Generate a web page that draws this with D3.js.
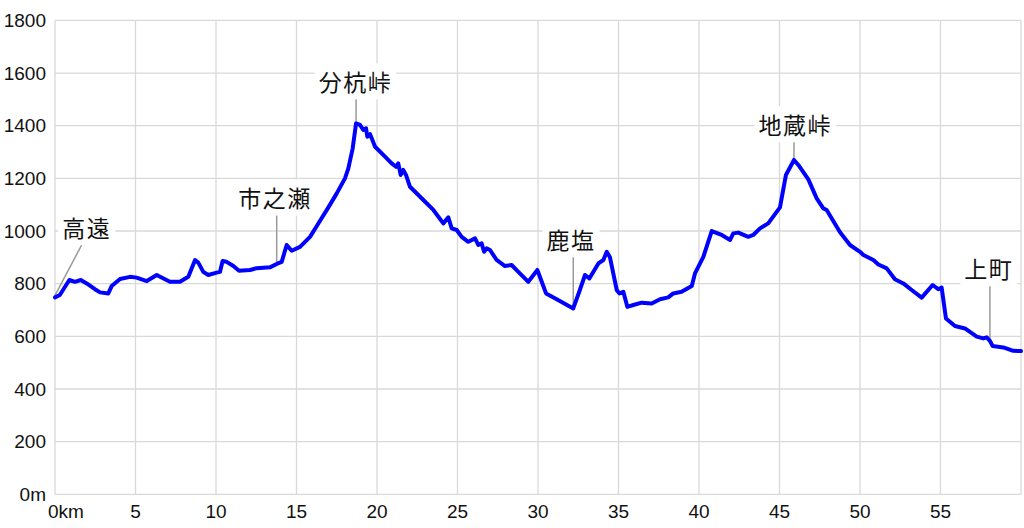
<!DOCTYPE html>
<html><head><meta charset="utf-8">
<script src="https://cdn.jsdelivr.net/npm/d3@7"></script>
<style>body{margin:0;background:#fff}svg{display:block}</style>
</head><body>
<svg id="c" width="1024" height="528"></svg>
<script>
const km = [0,0.3,0.89,1.24,1.6,1.97,2.48,2.8,3.31,3.52,4.04,4.66,5.07,5.7,6.32,6.83,7.14,7.76,8.28,8.7,8.9,9.21,9.52,10.04,10.25,10.41,10.66,11.08,11.43,12.11,12.53,13.35,13.77,14.08,14.39,14.7,15.22,15.84,16.25,16.98,17.5,18.01,18.22,18.49,18.7,18.94,19.15,19.32,19.4,19.57,19.88,20.39,20.91,21.18,21.32,21.47,21.63,21.8,22.05,22.88,23.5,24.12,24.43,24.64,24.95,25.26,25.67,26.09,26.29,26.5,26.65,26.81,27.02,27.43,27.95,28.36,28.78,29.4,29.96,30.5,31.16,32.19,32.6,32.92,33.19,33.75,34.06,34.27,34.47,34.89,35.05,35.3,35.55,35.92,36.44,37.06,37.58,38.09,38.4,38.92,39.55,39.75,40.27,40.79,41.41,41.93,42.13,42.44,43.06,43.37,43.79,44.3,45.03,45.4,45.9,46.17,46.79,47.31,47.72,47.93,48.76,49.38,50.0,50.21,50.83,51.14,51.66,52.17,52.69,53.21,53.83,54.51,54.86,55.07,55.34,55.9,56.52,57.25,57.66,57.87,58.07,58.24,58.9,59.52,60];
const elevation = [748,757,814,807,814,801,779,767,763,791,818,826,823,810,833,817,807,807,826,890,880,845,833,842,845,886,883,867,849,852,859,862,875,883,947,925,940,978,1018,1090,1143,1200,1238,1314,1409,1403,1384,1390,1358,1368,1320,1289,1257,1244,1257,1213,1232,1213,1168,1118,1080,1029,1052,1010,1004,978,959,972,947,953,921,934,928,890,867,871,845,807,852,763,741,706,776,833,820,877,890,921,900,776,763,769,712,719,728,725,741,748,763,769,791,839,902,1000,985,966,991,994,978,985,1010,1029,1090,1213,1270,1251,1196,1124,1086,1080,995,947,921,909,890,873,858,817,801,776,747,795,779,785,668,639,630,599,592,596,583,563,558,545,544];
const xTicks = [0,5,10,15,20,25,30,35,40,45,50,55];
const yTicks = [0,200,400,600,800,1000,1200,1400,1600,1800];
const placeNames = ["高遠","市之瀬","分杭峠","鹿塩","地蔵峠","上町"];
const placeKm = [0,13.77,18.7,32.19,45.9,58.07];
const placeElev = [748,875,1409,706,1270,583];
const labelKm = [1.97,13.66,18.66,32.05,45.98,58.0];
const labelElev = [1008,1121,1562,962,1399,852];

const svg = d3.select("#c");
const x = d3.scaleLinear().domain([0,60]).range([55,1021]);
const y = d3.scaleLinear().domain([0,1800]).range([494.3,20.4]);
const numFont = "'Liberation Sans', Arial, sans-serif";
const cjkFont = "'Noto Sans CJK JP', sans-serif";

const grid = svg.append("g").attr("stroke","#d9d9d9").attr("stroke-width",1.3);
grid.selectAll("line.v").data(xTicks.concat([60])).join("line")
  .attr("x1",d=>x(d)).attr("x2",d=>x(d)).attr("y1",y(0)).attr("y2",y(1800));
grid.selectAll("line.h").data(yTicks).join("line")
  .attr("y1",d=>y(d)).attr("y2",d=>y(d)).attr("x1",x(0)).attr("x2",x(60));

// y labels
svg.append("g").selectAll("text").data(yTicks).join("text")
  .attr("x",46).attr("y",d=>y(d)).attr("dy","0.35em")
  .attr("text-anchor","end").attr("font-family",numFont).attr("font-size",19).attr("fill","#111")
  .text(d=>d===0?"0m":d);

// x labels
svg.append("g").selectAll("text").data(xTicks).join("text")
  .attr("x",d=>x(d)).attr("y",518)
  .attr("text-anchor",d=>d===0?"start":"middle").attr("font-family",numFont).attr("font-size",19).attr("fill","#111")
  .attr("dx",d=>d===0?-7:0)
  .text(d=>d===0?"0km":d);

// line
const pts = km.map((k,i)=>[k,elevation[i]]);
svg.append("path").datum(pts)
  .attr("fill","none").attr("stroke","#0000ff").attr("stroke-width",4)
  .attr("stroke-linejoin","round").attr("stroke-linecap","round")
  .attr("d",d3.line().x(d=>x(d[0])).y(d=>y(d[1])));

// labels
const lab = svg.append("g");
placeNames.forEach((name,i)=>{
  const cx = x(labelKm[i]), cy = y(labelElev[i]);
  const g = lab.append("g");
  const rect = g.append("rect").attr("fill","#fff");
  const t = g.append("text").attr("x",cx).attr("y",cy).attr("dy","0.36em")
    .attr("text-anchor","middle").attr("font-family",cjkFont).attr("font-size",23).attr("fill","#111")
    .attr("letter-spacing",1.5).text(name);
  const bb = t.node().getBBox();
  rect.attr("x",bb.x-4).attr("y",bb.y-1).attr("width",bb.width+8).attr("height",bb.height+2);
  const bottom = cy + 13;
  svg.insert("line","path")
    .attr("x1", i===0 ? cx-5 : x(placeKm[i])).attr("y1", bottom+3)
    .attr("x2", x(placeKm[i])).attr("y2", y(placeElev[i]) - 2)
    .attr("stroke","#9a9a9a").attr("stroke-width",1.5);
});
</script>
</body></html>
